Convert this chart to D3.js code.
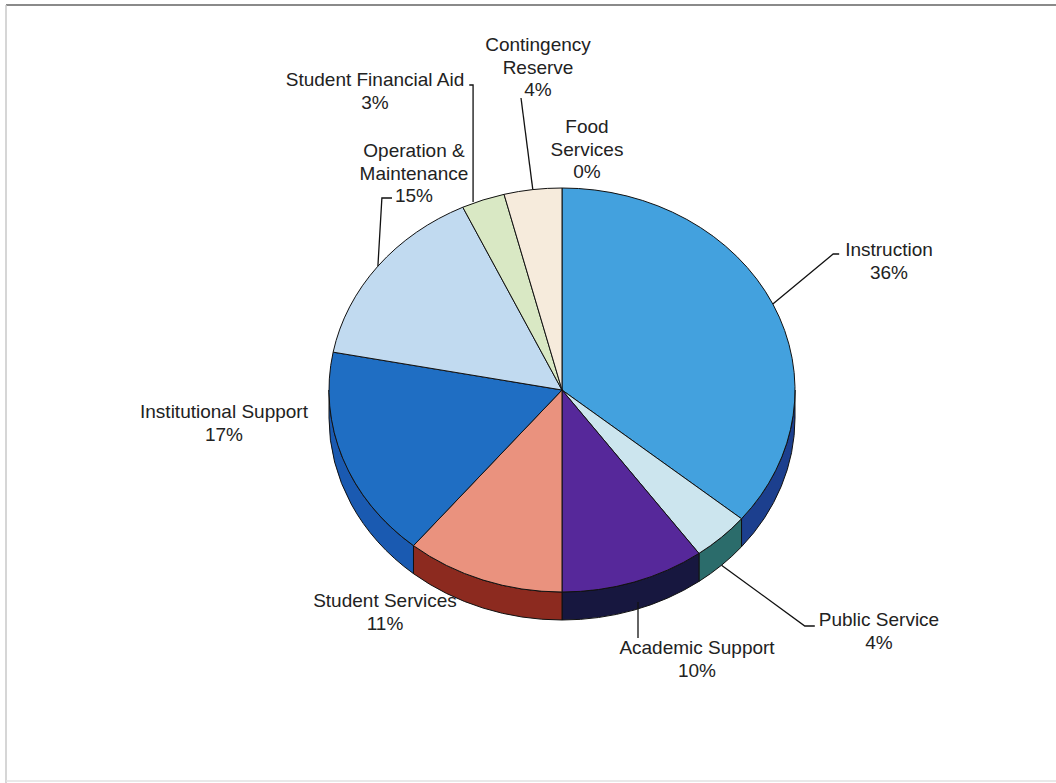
<!DOCTYPE html>
<html>
<head>
<meta charset="utf-8">
<script src="https://cdn.jsdelivr.net/npm/d3@7.9.0/dist/d3.min.js"></script>
<style>
  html, body { margin: 0; padding: 0; background: #fff; }
  svg text { font-family: "Liberation Sans", Arial, sans-serif; font-size: 19px; fill: #222; }
</style>
</head>
<body>
<svg id="chart" width="1056" height="783"></svg>
<script>
// slices, clockwise from 12 o'clock
const categories = ["Instruction", "Public Service", "Academic Support", "Student Services",
  "Institutional Support", "Operation & Maintenance", "Student Financial Aid",
  "Contingency Reserve", "Food Services"];
const values = [36, 4, 10, 11, 17, 15, 3, 4, 0];
const pctLabels = ["36%", "4%", "10%", "11%", "17%", "15%", "3%", "4%", "0%"];

const topColors = ["#43a1de", "#cce5ee", "#56289a", "#ea927e", "#1f6ec3", "#c1daf0", "#d9e8c4", "#f6ebdc", "#f6ebdc"];
const sideColors = ["#1c3f8e", "#2b6c6b", "#17173f", "#8c2a1f", "#1a5ab1", "#8aa9c8", "#9fb38a", "#c9b9a5", "#c9b9a5"];

// label layout: text lines, center x, first baseline y
const labelLines = [
  ["Instruction", "36%"], ["Public Service", "4%"], ["Academic Support", "10%"],
  ["Student Services", "11%"], ["Institutional Support", "17%"],
  ["Operation &", "Maintenance", "15%"], ["Student Financial Aid", "3%"],
  ["Contingency", "Reserve", "4%"], ["Food", "Services", "0%"]
];
const labelX = [889, 879, 697, 385, 224, 414, 375, 538, 587];
const labelY = [256, 626, 654, 607, 418, 157, 86, 51, 133];

const svg = d3.select("#chart");
const cx = 562, cy = 390, rx = 233, ry = 202, depth = 28;

// frame
svg.append("line").attr("x1", 6).attr("x2", 1056).attr("y1", 5).attr("y2", 5)
  .attr("stroke", "#8a8a8a").attr("stroke-width", 2);
svg.append("line").attr("x1", 6).attr("x2", 6).attr("y1", 5).attr("y2", 783)
  .attr("stroke", "#c8c8c8").attr("stroke-width", 1.5);
svg.append("line").attr("x1", 6).attr("x2", 1056).attr("y1", 781).attr("y2", 781)
  .attr("stroke", "#e2e2e2").attr("stroke-width", 1.5);

const pie = d3.pie().sort(null).value(d => d)
  .startAngle(0).endAngle(2 * Math.PI);
const arcs = pie(values);

const pt = (a, dy = 0) => [cx + rx * Math.sin(a), cy - ry * Math.cos(a) + dy];

// side walls (front half only)
const g = svg.append("g");
arcs.forEach((d, i) => {
  const a0 = Math.max(d.startAngle, Math.PI / 2);
  const a1 = Math.min(d.endAngle, 3 * Math.PI / 2);
  if (a1 <= a0) return;
  const p0 = pt(a0), p1 = pt(a1), b0 = pt(a0, depth), b1 = pt(a1, depth);
  const path = `M${p0}A${rx},${ry} 0 0 1 ${p1}L${b1}A${rx},${ry} 0 0 0 ${b0}Z`;
  g.append("path").attr("d", path)
    .attr("fill", sideColors[i])
    .attr("stroke", "#111").attr("stroke-width", 1).attr("stroke-linejoin", "round");
});

// top faces
arcs.forEach((d, i) => {
  if (d.endAngle - d.startAngle <= 0) return;
  const p0 = pt(d.startAngle), p1 = pt(d.endAngle);
  const large = d.endAngle - d.startAngle > Math.PI ? 1 : 0;
  const path = `M${cx},${cy}L${p0}A${rx},${ry} 0 ${large} 1 ${p1}Z`;
  g.append("path").attr("d", path)
    .attr("fill", topColors[i])
    .attr("stroke", "#111").attr("stroke-width", 1).attr("stroke-linejoin", "round");
});

// labels
const lg = svg.append("g");
const tspans = [];
labelLines.forEach((lines, i) => {
  const t = lg.append("text").attr("text-anchor", "middle")
    .attr("x", labelX[i]).attr("y", labelY[i]);
  tspans[i] = lines.map((s, k) =>
    t.append("tspan").attr("x", labelX[i]).attr("dy", k === 0 ? 0 : 22.5).text(s).node());
});
const lineLeft = (i, k) => labelX[i] - tspans[i][k].getComputedTextLength() / 2;
const lineRight = (i, k) => labelX[i] + tspans[i][k].getComputedTextLength() / 2;

// leader lines
const lineG = svg.append("g").attr("fill", "none").attr("stroke", "#111").attr("stroke-width", 1.3);
const mid = d => (d.startAngle + d.endAngle) / 2;
const anchor = (i, front) => pt(mid(arcs[i]), front ? depth : 0);

// Instruction
{
  const a = anchor(0, false);
  const x0 = lineLeft(0, 0) - 6;
  lineG.append("path").attr("d", `M${x0},${labelY[0] - 2}h-6L${a}`);
}
// Public Service
{
  const a = anchor(1, true);
  const x0 = lineLeft(1, 0) - 4;
  lineG.append("path").attr("d", `M${x0},${labelY[1]}h-10L${a}`);
}
// Academic Support
{
  const a = anchor(2, true);
  lineG.append("path").attr("d", `M${a[0] + 4},${a[1] - 8}V${labelY[2] - 16}`);
}
// Operation & Maintenance
{
  const a = anchor(5, false);
  const x0 = lineLeft(5, 2) - 3;
  lineG.append("path").attr("d", `M${x0},${labelY[5] + 41}H${a[0] + 4}L${a}`);
}
// Student Financial Aid
{
  const a = anchor(6, false);
  const x0 = lineRight(6, 0) + 5;
  lineG.append("path").attr("d", `M${x0},${labelY[6] - 1}H${a[0] - 10}V${a[1] + 2}`);
}
// Contingency Reserve
{
  const a = anchor(7, false);
  lineG.append("path").attr("d", `M${labelX[7] - 17},${labelY[7] + 47}L${a}`);
}
</script>
</body>
</html>
